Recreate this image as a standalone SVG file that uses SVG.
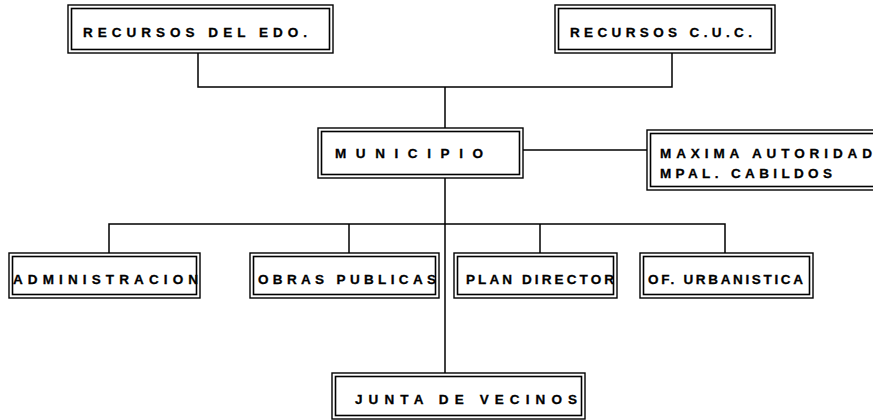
<svg xmlns="http://www.w3.org/2000/svg" width="873" height="420" viewBox="0 0 873 420">
<style>
.o{fill:#fff;stroke:#000;stroke-width:1.4}
.i{fill:none;stroke:#000;stroke-width:1.6}
.t{font-family:"Liberation Sans",Arial,sans-serif;font-weight:bold;font-size:13.5px;fill:#000;stroke:#000;stroke-width:0.3}
.c{fill:none;stroke:#000;stroke-width:1.5}
</style>
<rect width="873" height="420" fill="#fff"/>
<g id="connectors">
<path class="c" d="M198 53V87H672V53"/>
<path class="c" d="M445 87V128"/>
<path class="c" d="M523 150H647"/>
<path class="c" d="M445 178V373"/>
<path class="c" d="M109 253V224H725V253"/>
<path class="c" d="M349 224V253"/>
<path class="c" d="M540 224V253"/>
</g>
<g id="recursos-edo">
<rect class="o" x="68" y="5" width="265" height="48"/>
<rect class="i" x="71.5" y="8.5" width="258" height="41"/>
<text class="t" x="83" y="37" textLength="224" lengthAdjust="spacing">RECURSOS DEL EDO.</text>
</g>
<g id="recursos-cuc">
<rect class="o" x="555" y="5" width="220" height="48"/>
<rect class="i" x="558.5" y="8.5" width="213" height="41"/>
<text class="t" x="570" y="37" textLength="182" lengthAdjust="spacing">RECURSOS C.U.C.</text>
</g>
<g id="municipio">
<rect class="o" x="318" y="128" width="205" height="50"/>
<rect class="i" x="321.5" y="131.5" width="198" height="43"/>
<text class="t" x="335" y="158" textLength="148" lengthAdjust="spacing">MUNICIPIO</text>
</g>
<g id="maxima-autoridad">
<rect class="o" x="647" y="130" width="240" height="60"/>
<rect class="i" x="650.5" y="133.5" width="233" height="53"/>
<text class="t" x="660" y="158" textLength="212" lengthAdjust="spacing">MAXIMA AUTORIDAD</text>
<text class="t" x="660" y="178" textLength="172" lengthAdjust="spacing">MPAL. CABILDOS</text>
</g>
<g id="administracion">
<rect class="o" x="9" y="253" width="191" height="45"/>
<rect class="i" x="12.5" y="256.5" width="184" height="38"/>
<text class="t" x="13" y="284" textLength="185" lengthAdjust="spacing">ADMINISTRACION</text>
</g>
<g id="obras-publicas">
<rect class="o" x="250" y="253" width="189" height="45"/>
<rect class="i" x="253.5" y="256.5" width="182" height="38"/>
<text class="t" x="258" y="284" textLength="178" lengthAdjust="spacing">OBRAS PUBLICAS</text>
</g>
<g id="plan-director">
<rect class="o" x="454" y="253" width="163" height="45"/>
<rect class="i" x="457.5" y="256.5" width="156" height="38"/>
<text class="t" x="466" y="284" textLength="148" lengthAdjust="spacing">PLAN DIRECTOR</text>
</g>
<g id="of-urbanistica">
<rect class="o" x="640" y="253" width="173" height="45"/>
<rect class="i" x="643.5" y="256.5" width="166" height="38"/>
<text class="t" x="648" y="284" textLength="155" lengthAdjust="spacing">OF. URBANISTICA</text>
</g>
<g id="junta-de-vecinos">
<rect class="o" x="332" y="373" width="253" height="46"/>
<rect class="i" x="335.5" y="376.5" width="246" height="39"/>
<text class="t" x="355" y="404" textLength="222" lengthAdjust="spacing">JUNTA DE VECINOS</text>
</g>
</svg>
